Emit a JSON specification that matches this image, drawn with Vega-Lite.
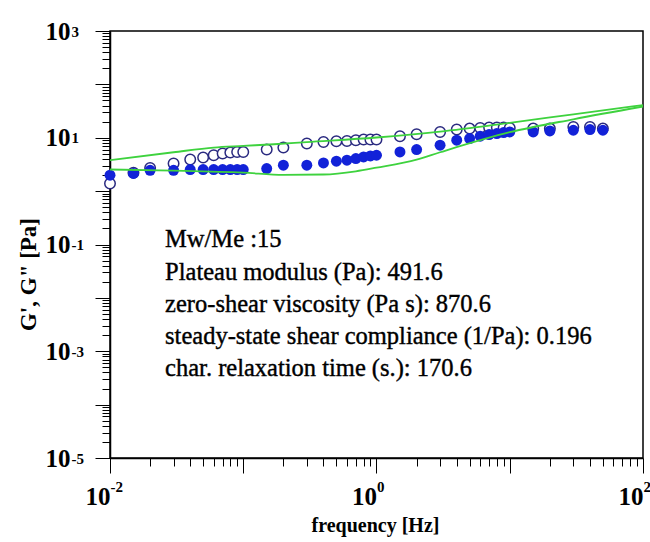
{
  "$schema": "https://vega.github.io/schema/vega-lite/v6.json",
  "autosize": {"type": "none"},
  "width": 533,
  "height": 427,
  "padding": {"left": 110, "top": 31, "right": 7, "bottom": 84},
  "background": "white",
  "config": {
    "view": {"stroke": "black", "strokeWidth": 1.5},
    "axis": {"domainColor": "black", "domainWidth": 1.5, "tickColor": "black", "tickWidth": 1, "grid": false,
      "labelFont": "Liberation Serif", "labelFontWeight": "bold", "labelColor": "black",
      "titleFont": "Liberation Serif", "titleFontWeight": "bold", "titleColor": "black",
      "labelFlush": false, "labelOverlap": false}
  },
  "resolve": {"axis": {"x": "independent", "y": "independent"}},
  "datasets": {
    "points": [
      {"f": 0.01, "Gp": 1.99, "Gpp": 1.39},
      {"f": 0.015, "Gp": 2.14, "Gpp": 2.2},
      {"f": 0.02, "Gp": 2.46, "Gpp": 2.72},
      {"f": 0.03, "Gp": 2.46, "Gpp": 3.29},
      {"f": 0.04, "Gp": 2.54, "Gpp": 3.91},
      {"f": 0.05, "Gp": 2.54, "Gpp": 4.26},
      {"f": 0.06, "Gp": 2.54, "Gpp": 4.7},
      {"f": 0.07, "Gp": 2.54, "Gpp": 5.06},
      {"f": 0.08, "Gp": 2.54, "Gpp": 5.28},
      {"f": 0.09, "Gp": 2.54, "Gpp": 5.42},
      {"f": 0.1, "Gp": 2.54, "Gpp": 5.42},
      {"f": 0.15, "Gp": 2.65, "Gpp": 6.01},
      {"f": 0.2, "Gp": 3.06, "Gpp": 6.55},
      {"f": 0.3, "Gp": 3.06, "Gpp": 7.79},
      {"f": 0.4, "Gp": 3.37, "Gpp": 8.34},
      {"f": 0.5, "Gp": 3.63, "Gpp": 8.6},
      {"f": 0.6, "Gp": 3.79, "Gpp": 8.68},
      {"f": 0.7, "Gp": 4.08, "Gpp": 8.98},
      {"f": 0.8, "Gp": 4.37, "Gpp": 9.25},
      {"f": 0.9, "Gp": 4.56, "Gpp": 9.25},
      {"f": 1, "Gp": 4.7, "Gpp": 9.25},
      {"f": 1.5, "Gp": 5.42, "Gpp": 10.67},
      {"f": 2, "Gp": 6.01, "Gpp": 11.63},
      {"f": 3, "Gp": 7.24, "Gpp": 12.84},
      {"f": 4, "Gp": 8.98, "Gpp": 14.25},
      {"f": 5, "Gp": 9.66, "Gpp": 14.87},
      {"f": 6, "Gp": 10.67, "Gpp": 15.26},
      {"f": 7, "Gp": 11.48, "Gpp": 15.52},
      {"f": 8, "Gp": 11.98, "Gpp": 15.52},
      {"f": 9, "Gp": 12.51, "Gpp": 15.5},
      {"f": 10, "Gp": 12.84, "Gpp": 15.26},
      {"f": 15, "Gp": 12.84, "Gpp": 14.87},
      {"f": 20, "Gp": 13.41, "Gpp": 14.87},
      {"f": 30, "Gp": 13.82, "Gpp": 15.93},
      {"f": 40, "Gp": 14.25, "Gpp": 15.93},
      {"f": 50, "Gp": 13.82, "Gpp": 14.87}
    ],
    "modelGpp": [
      {"f": 0.01, "G": 3.79},
      {"f": 0.03, "G": 5.35},
      {"f": 0.06, "G": 6.55},
      {"f": 0.1, "G": 7.03},
      {"f": 0.17, "G": 7.56},
      {"f": 0.3, "G": 8.3},
      {"f": 1, "G": 10.1},
      {"f": 3, "G": 13.0},
      {"f": 10, "G": 19.0},
      {"f": 30, "G": 27.5},
      {"f": 100, "G": 41.0}
    ],
    "modelGp": [
      {"f": 0.01, "G": 2.54},
      {"f": 0.03, "G": 2.42},
      {"f": 0.1, "G": 2.22},
      {"f": 0.2, "G": 2.02},
      {"f": 0.4, "G": 2.05},
      {"f": 0.7, "G": 2.35},
      {"f": 1, "G": 2.75},
      {"f": 2, "G": 3.9},
      {"f": 3, "G": 5.35},
      {"f": 10, "G": 12.7},
      {"f": 30, "G": 22.2},
      {"f": 100, "G": 38.5}
    ],
    "notes": [
      {"f": 0.0259, "G": 0.1205, "label": "Mw/Me :15"},
      {"f": 0.0259, "G": 0.029, "label": "Plateau modulus (Pa): 491.6"},
      {"f": 0.0259, "G": 0.0073, "label": "zero-shear viscosity (Pa s): 870.6"},
      {"f": 0.0259, "G": 0.00184, "label": "steady-state shear compliance (1/Pa): 0.196"},
      {"f": 0.0259, "G": 0.000462, "label": "char. relaxation time (s.): 170.6"}
    ]
  },
  "layer": [
    {
      "data": {"name": "points"},
      "mark": {"type": "point", "shape": "circle", "filled": false, "fill": "white", "fillOpacity": 1, "stroke": "#2a2a80", "strokeWidth": 1.5, "size": 110, "opacity": 1},
      "encoding": {
        "x": {"field": "f", "type": "quantitative",
          "scale": {"type": "log", "domain": [0.01, 100], "nice": false},
          "axis": {
            "orient": "bottom",
            "title": "frequency [Hz]", "titleFontSize": 20, "titleX": 265, "titleY": 67, "titleBaseline": "middle",
            "values": [0.01,0.02,0.03,0.04,0.05,0.06,0.07,0.08,0.09,0.1,0.2,0.3,0.4,0.5,0.6,0.7,0.8,0.9,1,2,3,4,5,6,7,8,9,10,20,30,40,50,60,70,80,90,100],
            "labelExpr": "datum.value===0.01||datum.value===1||datum.value===100?'10':''",
            "labelFontSize": 25, "labelAlign": "right", "labelDx": -4, "labelBaseline": "middle", "labelPadding": 23,
            "tickSize": {"condition": {"test": "indexof([0.01,0.1,1,10,100], datum.value)>=0", "value": 15}, "value": 8}
          }
        },
        "y": {"field": "Gpp", "type": "quantitative",
          "scale": {"type": "log", "domain": [0.00001, 1000], "nice": false},
          "axis": {
            "orient": "left",
            "title": "G', G\" [Pa]", "titleFontSize": 23, "titleX": -82, "titleY": 243, "titleAngle": -90, "titleAlign": "center", "titleBaseline": "middle",
            "values": [0.00001,0.00002,0.00003,0.00004,0.00005,0.00006,0.00007,0.00008,0.00009,0.0001,0.0002,0.0003,0.0004,0.0005,0.0006,0.0007,0.0008,0.0009,0.001,0.002,0.003,0.004,0.005,0.006,0.007,0.008,0.009,0.01,0.02,0.03,0.04,0.05,0.06,0.07,0.08,0.09,0.1,0.2,0.3,0.4,0.5,0.6,0.7,0.8,0.9,1,2,3,4,5,6,7,8,9,10,20,30,40,50,60,70,80,90,100,200,300,400,500,600,700,800,900,1000],
            "labelExpr": "datum.value===1000||datum.value===10||datum.value===0.1||datum.value===0.001||datum.value===0.00001?'10':''",
            "labelFontSize": 25, "labelAlign": "right", "labelBaseline": "middle", "labelDy": 2, "labelPadding": 25,
            "tickSize": {"condition": {"test": "indexof([0.00001,0.0001,0.001,0.01,0.1,1,10,100,1000], datum.value)>=0", "value": 15}, "value": 8}
          }
        }
      }
    },
    {
      "data": {"name": "points"},
      "mark": {"type": "point", "shape": "circle", "filled": true, "color": "#1222d8", "size": 120, "opacity": 1},
      "encoding": {
        "x": {"field": "f", "type": "quantitative",
          "axis": {
            "orient": "bottom", "title": null, "domain": false, "ticks": false, "tickSize": 0,
            "values": [0.01, 1, 100],
            "labelExpr": "datum.value===0.01?'-2':datum.value===1?'0':'2'",
            "labelFontSize": 15, "labelAlign": "left", "labelDx": -3, "labelBaseline": "middle", "labelPadding": 28
          }
        },
        "y": {"field": "Gp", "type": "quantitative",
          "axis": {
            "orient": "left", "title": null, "domain": false, "ticks": false, "tickSize": 0,
            "values": [0.00001, 0.001, 0.1, 10, 1000],
            "labelExpr": "datum.value===1000?'3':datum.value===10?'1':datum.value===0.1?'-1':datum.value===0.001?'-3':'-5'",
            "labelFontSize": 15, "labelAlign": "left", "labelBaseline": "middle", "labelDy": -8, "labelPadding": 39
          }
        }
      }
    },
    {
      "data": {"name": "modelGpp"},
      "mark": {"type": "line", "color": "#3ed23e", "strokeWidth": 1.8, "interpolate": "monotone"},
      "encoding": {
        "x": {"field": "f", "type": "quantitative", "axis": null},
        "y": {"field": "G", "type": "quantitative", "axis": null}
      }
    },
    {
      "data": {"name": "modelGp"},
      "mark": {"type": "line", "color": "#3ed23e", "strokeWidth": 1.8, "interpolate": "monotone"},
      "encoding": {
        "x": {"field": "f", "type": "quantitative", "axis": null},
        "y": {"field": "G", "type": "quantitative", "axis": null}
      }
    },
    {
      "data": {"name": "notes"},
      "mark": {"type": "text", "align": "left", "baseline": "middle", "font": "Liberation Serif", "fontSize": 24.5, "color": "black", "stroke": "black", "strokeWidth": 0.4},
      "encoding": {
        "x": {"field": "f", "type": "quantitative", "axis": null},
        "y": {"field": "G", "type": "quantitative", "axis": null},
        "text": {"field": "label"}
      }
    }
  ]
}
